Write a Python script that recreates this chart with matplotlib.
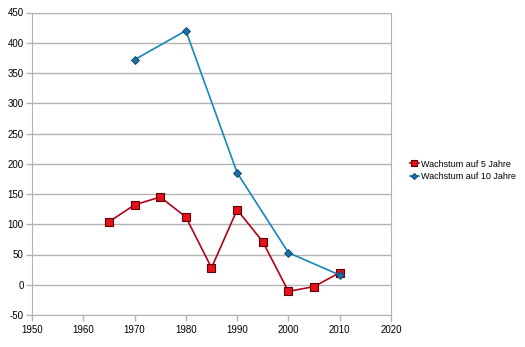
import matplotlib
matplotlib.use("Agg")
import matplotlib.pyplot as plt

years5 = [1965, 1970, 1975, 1980, 1985, 1990, 1995, 2000, 2005, 2010]
growth5 = [104, 132, 145, 112, 28, 124, 71, -11, -3, 20]
years10 = [1970, 1980, 1990, 2000, 2010]
growth10 = [372, 420, 185, 53, 16]
label5 = "Wachstum auf 5 Jahre"
label10 = "Wachstum auf 10 Jahre"
xticks = [1950, 1960, 1970, 1980, 1990, 2000, 2010, 2020]
yticks = [-50, 0, 50, 100, 150, 200, 250, 300, 350, 400, 450]

plt.rcParams['font.family'] = ['Liberation Sans', 'DejaVu Sans']
plt.rcParams['axes.unicode_minus'] = False
fig = plt.figure(figsize=(5.25, 3.47), dpi=100)
ax = fig.add_axes([32/525, 1-315/347, (391-32)/525, (315-12.5)/347])

ax.plot(years5, growth5, color='#b3001b', lw=1.2, marker='s', ms=5.2,
        mfc='#e8101a', mec='#5a0000', mew=0.8, label=label5, zorder=3)
ax.plot(years10, growth10, color='#1586b8', lw=1.2, marker='D', ms=4,
        mfc='#1f6fa8', mec='#0b3d63', mew=0.6, label=label10, zorder=3)

ax.set_xlim(1950, 2020)
ax.set_ylim(-50, 450)
ax.set_xticks(xticks)
ax.set_yticks(yticks)
ax.grid(axis='y', color='#b3b3b3', lw=1)
ax.set_axisbelow(True)
for s in ax.spines.values():
    s.set_color('#b3b3b3')
ax.tick_params(axis='both', colors='#b3b3b3', labelcolor='black', labelsize=7,
               length=4, width=1, direction='out')
ax.tick_params(axis='x', pad=3)
ax.tick_params(axis='y', pad=2)

ax.legend(loc='upper left', bbox_to_anchor=(405/525, 1-155/347), bbox_transform=fig.transFigure,
          frameon=False, fontsize=6.5, handlelength=1.0, handletextpad=0.3,
          labelspacing=0.35, borderpad=0, markerscale=0.8)

fig.savefig("out.png", dpi=100)
